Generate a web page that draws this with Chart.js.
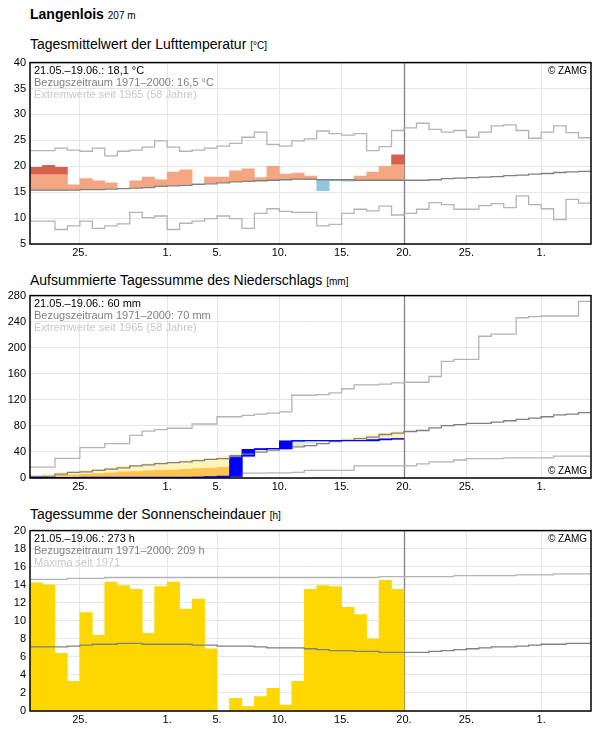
<!DOCTYPE html>
<html><head><meta charset="utf-8">
<script src="https://cdn.jsdelivr.net/npm/chart.js@4"></script>
<style>
  body { margin:0; width:596px; height:729px; background:#fff; font-family:"Liberation Sans", Arial, sans-serif; position:relative; overflow:hidden; }
  .t { position:absolute; left:30px; font-size:14px; color:#000; white-space:nowrap; }
  .t small { font-size:10px; }
  .box { position:absolute; left:0; width:596px; }
</style></head>
<body>
<div class="t" style="top:6px;"><b>Langenlois</b> <small>207 m</small></div>
<div class="t" style="top:36px;">Tagesmittelwert der Lufttemperatur <small>[°C]</small></div>
<div class="t" style="top:272px;">Aufsummierte Tagessumme des Niederschlags <small>[mm]</small></div>
<div class="t" style="top:506px;">Tagessumme der Sonnenscheindauer <small>[h]</small></div>
<div class="box" style="top:52px;height:212px;"><canvas id="temp"></canvas></div>
<div class="box" style="top:285px;height:213px;"><canvas id="rain"></canvas></div>
<div class="box" style="top:520px;height:209px;"><canvas id="sun"></canvas></div>
<script>
// Day index 0 = 21.05., 45 days shown, measured data up to 19.06. (30 days)
const tickPos = [4, 11, 15, 20, 25, 30, 35, 41];
const tickLabels = ['25.', '1.', '5.', '10.', '15.', '20.', '25.', '1.'];
const TODAY = 30;

// Temperature [°C]
const tempActual = [19.8, 20.2, 19.8, 16.4, 17.6, 17.2, 16.8, 15.8, 17.2, 17.9, 17.4, 18.9, 19.3, 16.5, 17.9,
  17.9, 19.1, 19.5, 17.8, 20.0, 18.5, 18.7, 18.1, 15.3, 17.2, 17.1, 18.1, 18.9, 20.0, 22.2];
const tempNormal = [15.4, 15.4, 15.4, 15.5, 15.5, 15.6, 15.7, 15.8, 15.9, 16.1, 16.2, 16.3, 16.5, 16.6, 16.8,
  17.0, 17.1, 17.2, 17.3, 17.4, 17.5, 17.5, 17.4, 17.4, 17.4, 17.3, 17.3, 17.3, 17.3, 17.3,
  17.3, 17.4, 17.6, 17.7, 17.8, 17.9, 18.0, 18.2, 18.3, 18.5, 18.6, 18.8, 18.9, 19.0, 19.1];
const tempMax = [23.0, 23.5, 23.1, 22.9, 23.5, 22.0, 22.9, 23.1, 23.7, 24.9, 23.7, 22.9, 23.1, 23.5, 23.9,
  24.4, 25.6, 26.6, 24.2, 23.9, 24.9, 25.3, 26.8, 26.3, 26.0, 26.3, 23.0, 23.8, 26.9, 27.4,
  28.3, 27.1, 26.6, 26.9, 25.6, 26.6, 27.8, 28.0, 26.9, 25.4, 26.6, 27.8, 26.5, 25.5, 24.9];
const tempMin = [9.4, 7.8, 8.5, 9.4, 8.0, 8.5, 8.9, 11.1, 10.1, 10.4, 7.8, 9.0, 9.4, 9.9, 10.4,
  9.9, 8.0, 10.9, 11.8, 11.3, 11.1, 11.1, 8.5, 8.8, 10.9, 11.7, 11.4, 12.3, 10.6, 10.9,
  11.7, 13.0, 12.6, 11.7, 11.7, 12.4, 12.8, 12.0, 14.3, 12.6, 11.8, 9.7, 13.6, 12.9, 14.3];

// Precipitation, cumulative [mm]
const rainActual = [0.5, 0.5, 0.5, 1, 1, 1, 1, 1, 1, 1, 1, 1, 1, 1.5, 1.5,
  3, 34, 44, 45, 45, 57, 57.5, 57.5, 57.5, 57.5, 57.5, 57.5, 59, 60, 60];
const rainNormal = [2.5, 6, 8.5, 9.5, 11.6, 13.6, 15.6, 18.6, 20, 22, 23.6, 24.6, 26.6, 28.6, 29.6,
  32.7, 36.7, 39.7, 42.7, 45, 47.7, 49.7, 52.8, 55.8, 57.8, 60.3, 62.8, 66.8, 68.8, 71.4,
  72.9, 76.9, 80.4, 81.9, 83.9, 83.9, 85.9, 87.9, 89.9, 92, 94, 97, 98, 100.5, 103];
const rainMax = [16.6, 30, 30, 46.7, 46.7, 52.8, 52.8, 65.3, 71.9, 74.4, 76.4, 76.4, 82.9, 82.9, 94,
  94, 96, 98, 99.5, 101.5, 127, 127, 128, 130.6, 137, 143, 143, 144, 146, 147,
  147, 155.8, 179, 182, 182, 217.6, 221, 221, 246, 247.7, 248.7, 248.7, 248.7, 271, 271];
const rainMin = [0, 0, 0, 0, 0, 0, 0, 0, 0, 0, 0, 0, 0, 0, 0,
  0, 7.5, 7.5, 8, 8, 8.5, 11.6, 11.6, 11.6, 11.6, 18.6, 18.6, 18.6, 18.6, 18.6,
  21.6, 24.6, 24.6, 27.6, 29.6, 29.6, 29.6, 31, 31, 31, 31, 33.7, 33.7, 33.7, 33.7];

// Sunshine [h]
const sunActual = [14.2, 14.0, 6.4, 3.3, 10.9, 8.4, 14.3, 13.9, 13.5, 8.6, 13.8, 14.3, 11.3, 12.4, 6.9,
  0, 1.4, 0.5, 1.6, 2.5, 0.65, 3.3, 13.5, 13.9, 13.8, 11.5, 10.7, 8.0, 14.5, 13.5];
const sunNormal = [7.1, 7.1, 7.2, 7.3, 7.4, 7.4, 7.5, 7.5, 7.4, 7.4, 7.4, 7.4, 7.3, 7.3, 7.2,
  7.2, 7.2, 7.1, 7.0, 7.0, 7.0, 6.9, 6.8, 6.7, 6.7, 6.6, 6.6, 6.5, 6.5, 6.5,
  6.5, 6.6, 6.7, 6.8, 6.9, 7.0, 7.1, 7.1, 7.2, 7.3, 7.4, 7.4, 7.5, 7.5, 7.6];
const sunMax = [14.6, 14.6, 14.7, 14.7, 14.7, 14.8, 14.8, 14.8, 14.8, 14.8, 14.8, 14.8, 14.8, 14.8, 14.8,
  14.8, 14.8, 14.8, 14.8, 14.8, 14.8, 14.8, 14.8, 14.8, 14.8, 14.8, 14.8, 14.9, 14.9, 14.9,
  14.9, 14.9, 14.9, 15.0, 15.0, 15.0, 15.0, 15.0, 15.1, 15.1, 15.1, 15.2, 15.2, 15.2, 15.3];

const NDAYS = 45;
const FONT = { family: '"Liberation Sans", Arial, sans-serif', size: 11 };
const NONE = 'rgba(0,0,0,0)';

// each day i covers x = i .. i+1
function stepLine(values, color, order) {
  const pts = [{ x: 0, y: values[0] }];
  values.forEach((v, i) => pts.push({ x: i + 1, y: v }));
  return { type: 'line', data: pts, borderColor: color, backgroundColor: NONE, borderWidth: 1.3,
    pointRadius: 0, stepped: 'before', fill: false, order: order };
}

function floatBars(pairs, color, order) {
  return { type: 'bar', data: pairs.map((p, i) => ({ x: i + 0.5, y: p })),
    backgroundColor: color, borderColor: NONE, borderWidth: 0, barPercentage: 1, categoryPercentage: 1,
    grouped: false, order: order };
}

function labelPlugin(lines, zampPos) {
  return {
    id: 'labels',
    beforeDatasetsDraw(chart) {
      // vertical line at 20.06.
      const ctx = chart.ctx, a = chart.chartArea;
      const x = Math.round(chart.scales.x.getPixelForValue(TODAY)) + 0.5;
      ctx.save();
      ctx.strokeStyle = '#808080';
      ctx.lineWidth = 1.3;
      ctx.beginPath(); ctx.moveTo(x, a.top); ctx.lineTo(x, a.bottom); ctx.stroke();
      ctx.restore();
    },
    afterDraw(chart) {
      const ctx = chart.ctx, a = chart.chartArea;
      ctx.save();
      ctx.font = '11px "Liberation Sans", Arial, sans-serif';
      ctx.textBaseline = 'top';
      ctx.textAlign = 'left';
      lines.forEach((l, k) => {
        ctx.fillStyle = l[1];
        ctx.fillText(l[0], a.left + 4, a.top + 3 + k * 12);
      });
      ctx.textAlign = 'right';
      ctx.fillStyle = '#000';
      ctx.font = '10px "Liberation Sans", Arial, sans-serif';
      if (zampPos === 'top') ctx.fillText('© ZAMG', a.right - 4, a.top + 4);
      else { ctx.textBaseline = 'bottom'; ctx.fillText('© ZAMG', a.right - 4, a.bottom - 2); }
      ctx.strokeStyle = '#000';
      ctx.lineWidth = 1.5;
      ctx.strokeRect(a.left, a.top, a.right - a.left, a.bottom - a.top);
      ctx.restore();
    }
  };
}

function makeChart(id, datasets, yMin, yMax, yStep, lines, zampPos, xAxisH) {
  new Chart(document.getElementById(id), {
    data: { datasets: datasets },
    options: {
      responsive: true, maintainAspectRatio: false, animation: false,
      layout: { padding: { top: 7, right: 5, left: 0, bottom: 0 } },
      plugins: { legend: { display: false }, tooltip: { enabled: false } },
      scales: {
        x: {
          type: 'linear', min: 0, max: NDAYS, offset: false,
          afterBuildTicks(s) { s.ticks = tickPos.map(v => ({ value: v })); },
          afterFit(s) { s.height = xAxisH; },
          ticks: { autoSkip: false, maxRotation: 0, color: '#000', font: FONT, padding: 2,
            callback: (v) => tickLabels[tickPos.indexOf(v)] },
          grid: { color: '#e6e6e6', drawTicks: false, offset: false },
          border: { display: false }
        },
        y: {
          min: yMin, max: yMax,
          afterFit(s) { s.width = 30; },
          ticks: { stepSize: yStep, color: '#000', font: FONT, padding: 4 },
          grid: { color: '#e6e6e6', drawTicks: false },
          border: { display: false }
        }
      }
    },
    plugins: [labelPlugin(lines, zampPos)]
  });
}

// Temperature panel
const tSalmon = tempActual.map((v, i) => v > tempNormal[i] ? [tempNormal[i], Math.min(v, tempNormal[i] + 3)] : null);
const tRed = tempActual.map((v, i) => v > tempNormal[i] + 3 ? [tempNormal[i] + 3, v] : null);
const tBlue = tempActual.map((v, i) => v < tempNormal[i] ? [v, tempNormal[i]] : null);
makeChart('temp', [
  stepLine(tempNormal, '#808080', 0),
  stepLine(tempMax, '#b4b4b4', 1),
  stepLine(tempMin, '#b4b4b4', 1),
  floatBars(tSalmon, '#f4a582', 5),
  floatBars(tRed, '#d6604d', 5),
  floatBars(tBlue, '#92c5de', 5)
], 5, 40, 5, [
  ['21.05.–19.06.: 18,1 °C', '#000'],
  ['Bezugszeitraum 1971–2000: 16,5 °C', '#808080'],
  ['Extremwerte seit 1965 (58 Jahre)', '#c8c8c8']
], 'top', 20);

// Precipitation panel
const rOrange = rainActual.map((v, i) => v < rainNormal[i] * 0.5 ? [v, rainNormal[i] * 0.5] : null);
const rYellow = rainActual.map((v, i) => v < rainNormal[i] ? [Math.max(v, rainNormal[i] * 0.5), rainNormal[i]] : null);
const rGreen = rainActual.map((v, i) => v > rainNormal[i] ? [rainNormal[i], v] : null);
const rBlue = rainActual.map((v, i) => [i === 0 ? 0 : rainActual[i - 1], v]);
makeChart('rain', [
  stepLine(rainActual, '#0000ff', 0),
  stepLine(rainNormal, '#808080', 1),
  stepLine(rainMax, '#b4b4b4', 2),
  stepLine(rainMin, '#b4b4b4', 2),
  floatBars(rBlue, '#0000ff', 4),
  floatBars(rOrange, '#fdc453', 5),
  floatBars(rYellow, '#fff3b8', 5),
  floatBars(rGreen, '#dcebd8', 5)
], 0, 280, 40, [
  ['21.05.–19.06.: 60 mm', '#000'],
  ['Bezugszeitraum 1971–2000: 70 mm', '#808080'],
  ['Extremwerte seit 1965 (58 Jahre)', '#c8c8c8']
], 'bottom', 20);

// Sunshine panel
makeChart('sun', [
  stepLine(sunNormal, '#808080', 0),
  stepLine(sunMax, '#b4b4b4', 1),
  floatBars(sunActual.map(v => [0, v]), '#ffd700', 5)
], 0, 20, 2, [
  ['21.05.–19.06.: 273 h', '#000'],
  ['Bezugszeitraum 1971–2000: 209 h', '#808080'],
  ['Maxima seit 1971', '#c8c8c8']
], 'top', 18);
</script>
</body></html>
